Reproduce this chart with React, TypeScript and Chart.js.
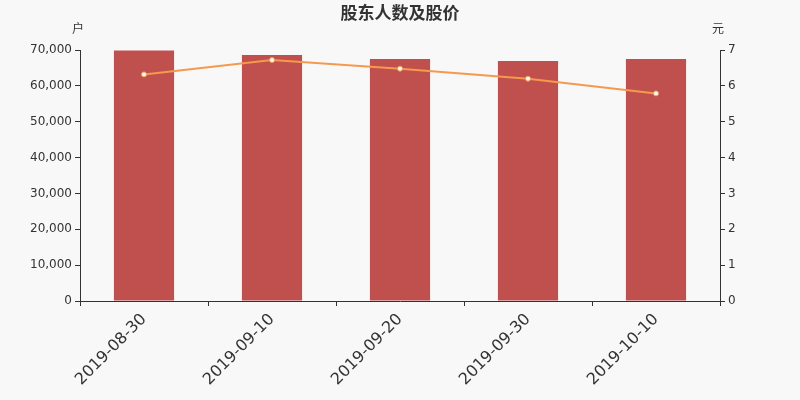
import React, { useEffect, useRef } from 'react';
import { Chart, registerables } from 'chart.js';

Chart.register(...registerables);

const dates: string[] = ['2019-08-30', '2019-09-10', '2019-09-20', '2019-09-30', '2019-10-10'];
const holders: number[] = [69850, 68600, 67480, 66920, 67480];
const prices: number[] = [6.32, 6.72, 6.48, 6.2, 5.79];

const FONT = "'DejaVu Sans', 'Noto Sans CJK SC', sans-serif";
const CJK = "'Noto Sans CJK SC', sans-serif";

const decorPlugin = {
    id: 'decor',
    beforeDraw: (chart: any) => {
        const ctx = chart.ctx;
        ctx.save();
        ctx.fillStyle = '#f8f8f8';
        ctx.fillRect(0, 0, chart.width, chart.height);
        ctx.restore();
    },
    afterDraw: (chart: any) => {
        const ctx = chart.ctx;
        ctx.save();
        ctx.fillStyle = '#333';
        ctx.textAlign = 'center';
        ctx.textBaseline = 'middle';
        ctx.font = `bold 17px ${CJK}`;
        ctx.fillText('股东人数及股价', 400, 13);
        ctx.font = `12px ${CJK}`;
        ctx.fillText('户', 78, 28);
        ctx.fillText('元', 718, 28);
        ctx.restore();
    },
};

const App: React.FC = () => {
    const canvasRef = useRef<HTMLCanvasElement>(null);

    useEffect(() => {
        if (!canvasRef.current) return;
        const ctx = canvasRef.current.getContext('2d');
        if (!ctx) return;

        const chart = new Chart(ctx, {
            type: 'bar',
            data: {
                labels: dates,
                datasets: [
                    {
                        type: 'line',
                        label: '股价',
                        data: prices,
                        yAxisID: 'y1',
                        borderColor: '#f5994e',
                        borderWidth: 2,
                        pointRadius: 2.5,
                        pointBackgroundColor: '#ffffff',
                        pointBorderColor: '#f5994e',
                        pointBorderWidth: 1,
                        tension: 0,
                        order: 0,
                    },
                    {
                        type: 'bar',
                        label: '股东人数',
                        data: holders,
                        yAxisID: 'y',
                        backgroundColor: '#c0504d',
                        categoryPercentage: 1,
                        barPercentage: 0.47,
                        order: 1,
                    },
                ],
            },
            options: {
                responsive: false,
                animation: false,
                layout: { padding: { top: 50, left: 0, right: 0, bottom: 0 } },
                plugins: {
                    legend: { display: false },
                    tooltip: { enabled: false },
                },
                scales: {
                    x: {
                        grid: {
                            display: true,
                            drawOnChartArea: false,
                            drawTicks: true,
                            tickLength: 5,
                            color: '#333',
                            offset: true,
                        },
                        border: { color: '#333', width: 1 },
                        ticks: {
                            color: '#333',
                            font: { family: FONT, size: 16 },
                            minRotation: 45,
                            maxRotation: 45,
                            padding: 4,
                        },
                        afterFit: (scale: any) => {
                            scale.height = 99;
                        },
                    },
                    y: {
                        position: 'left',
                        min: 0,
                        max: 70000,
                        grid: {
                            display: true,
                            drawOnChartArea: false,
                            drawTicks: true,
                            tickLength: 5,
                            color: '#333',
                        },
                        border: { color: '#333', width: 1 },
                        ticks: {
                            stepSize: 10000,
                            color: '#333',
                            font: { family: FONT, size: 12 },
                            padding: 3,
                            callback: (v: any) => Number(v).toLocaleString('en-US'),
                        },
                        afterFit: (scale: any) => {
                            scale.width = 80;
                        },
                    },
                    y1: {
                        position: 'right',
                        min: 0,
                        max: 7,
                        grid: {
                            display: true,
                            drawOnChartArea: false,
                            drawTicks: true,
                            tickLength: 5,
                            color: '#333',
                        },
                        border: { color: '#333', width: 1 },
                        ticks: {
                            stepSize: 1,
                            color: '#333',
                            font: { family: FONT, size: 12 },
                            padding: 3,
                        },
                        afterFit: (scale: any) => {
                            scale.width = 80;
                        },
                    },
                },
            },
            plugins: [decorPlugin],
        });

        return () => {
            chart.destroy();
        };
    }, []);

    return (
        <div style={{ position: 'absolute', left: 0, top: 0, width: 800, height: 400 }}>
            <canvas ref={canvasRef} width={800} height={400} style={{ width: 800, height: 400 }}></canvas>
        </div>
    );
};

export default App;
